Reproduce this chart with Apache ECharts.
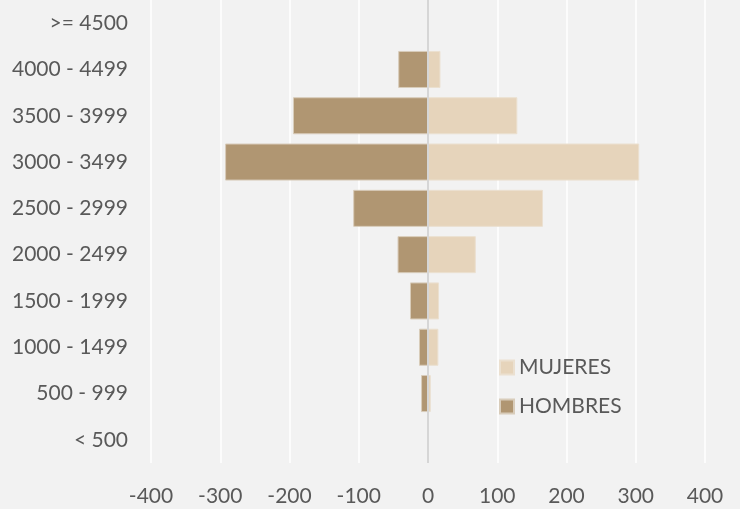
<!DOCTYPE html>
<html>
<head>
<meta charset="utf-8">
<script src="https://cdn.jsdelivr.net/npm/echarts@6/dist/echarts.min.js"></script>
<style>
html,body{margin:0;padding:0;background:#f2f2f2;}
#chart{width:740px;height:509px;}
</style>
</head>
<body>
<div id="chart"></div>
<script>
// Categories listed bottom -> top
const categories = ["< 500","500 - 999","1000 - 1499","1500 - 1999","2000 - 2499","2500 - 2999","3000 - 3499","3500 - 3999","4000 - 4499",">= 4500"];
const mujeres = [0, 4, 15, 16, 69, 166, 305, 129, 18, 0];
const hombres = [-0.5, -10, -13, -26, -44, -108, -293, -195, -43, -0.5];
const xTicks = [-400, -300, -200, -100, 0, 100, 200, 300, 400];

const FONT = 'Lato';
const TXT = '#595959';

const chart = echarts.init(document.getElementById('chart'));
chart.setOption({
  backgroundColor: '#f2f2f2',
  animation: false,
  grid: {left: 151, right: 35, top: -2, bottom: 46, containLabel: false},
  legend: {
    orient: 'vertical',
    left: 494, top: 352,
    itemWidth: 14, itemHeight: 14,
    itemGap: 18,
    icon: 'rect',
    textStyle: {color: TXT, fontSize: 21, fontFamily: FONT},
    data: ['MUJERES', 'HOMBRES']
  },
  xAxis: {
    type: 'value',
    min: xTicks[0], max: xTicks[xTicks.length - 1], interval: 100,
    axisLine: {show: false},
    axisTick: {show: false},
    splitLine: {show: true, lineStyle: {color: '#ffffff', width: 1.5}},
    axisLabel: {color: TXT, fontSize: 21, fontFamily: FONT, margin: 23}
  },
  yAxis: {
    type: 'category',
    data: categories,
    axisLine: {show: false, onZero: false},
    axisTick: {show: false},
    splitLine: {show: false},
    axisLabel: {color: TXT, fontSize: 21, fontFamily: FONT, margin: 23}
  },
  series: [
    {
      name: 'MUJERES', type: 'bar', stack: 'p',
      data: mujeres,
      barCategoryGap: '20%',
      itemStyle: {color: '#e6d4bb', borderColor: '#ebe0d0', borderWidth: 1}
    },
    {
      name: 'HOMBRES', type: 'bar', stack: 'p',
      data: hombres,
      barCategoryGap: '20%',
      itemStyle: {color: '#b09672', borderColor: '#d8ccba', borderWidth: 1},
      markLine: {
        silent: true, symbol: 'none', label: {show: false},
        lineStyle: {color: '#d6d6d6', width: 2, type: 'solid'},
        data: [{xAxis: 0}]
      }
    }
  ]
});
</script>
</body>
</html>
